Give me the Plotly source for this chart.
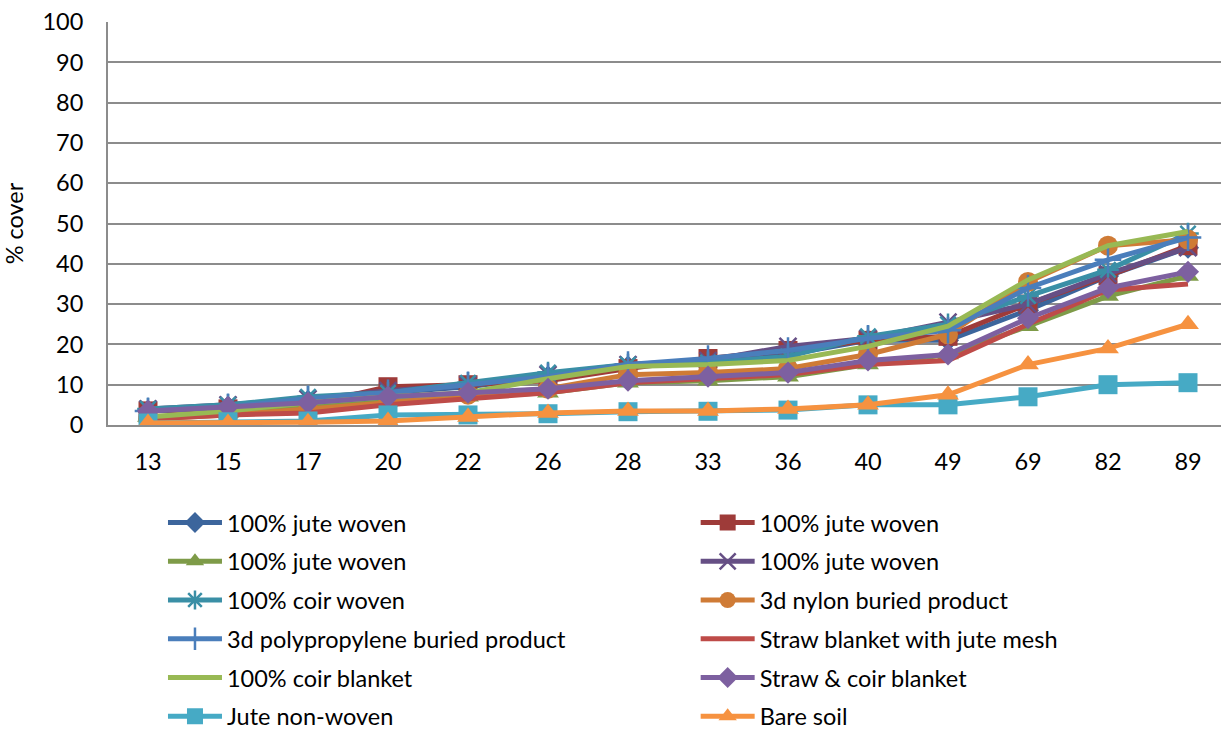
import plotly.graph_objects as go

days = ["13", "15", "17", "20", "22", "26", "28", "33", "36", "40", "49", "69", "82", "89"]

names = [
    "100% jute woven", "100% jute woven", "100% jute woven", "100% jute woven",
    "100% coir woven", "3d nylon buried product", "3d polypropylene buried product",
    "Straw blanket with jute mesh", "100% coir blanket", "Straw & coir blanket",
    "Jute non-woven", "Bare soil",
]

jute_woven_a = [3.5, 4.5, 6, 8, 9.5, 12, 14.5, 16, 17.5, 21, 21, 28.5, 37, 44]
jute_woven_b = [3.5, 4, 5, 9.5, 10, 11, 14, 16.5, 18.5, 21, 22, 30, 37, 44.5]
jute_woven_c = [2, 3, 4.5, 6.5, 7, 8, 10.5, 11, 12, 15, 17.5, 24.5, 32, 37]
jute_woven_d = [4, 5, 6.5, 8.5, 10, 12.5, 15, 16, 19.5, 21.5, 25.5, 30, 37.5, 44]
coir_woven = [4, 5, 7, 8, 10.5, 13, 15, 15.5, 17, 22, 25, 32, 38.5, 47.5]
nylon_3d = [1.5, 2.5, 4, 5.5, 7.5, 9, 12.5, 13, 14, 17.5, 22.5, 35.5, 44.5, 46]
polypropylene_3d = [3.5, 4.5, 6.5, 8, 10, 12, 15, 16.5, 18.5, 21.5, 23.5, 34, 41, 46.5]
straw_jute_mesh = [1.5, 2.5, 3, 5, 6.5, 8, 10.5, 11.5, 12.5, 15, 16, 25, 33.5, 35]
coir_blanket = [2, 3.5, 5.5, 7, 8, 11.5, 14.5, 15, 16, 19.5, 24.5, 36, 44.5, 48]
straw_coir_blanket = [3.5, 4.5, 5.5, 7, 8, 9, 11, 12, 13, 16, 17.5, 26.5, 34, 38]
jute_non_woven = [0.5, 0.8, 1, 2.5, 2.5, 2.8, 3.3, 3.4, 3.7, 5, 5, 7, 10, 10.5]
bare_soil = [0.5, 0.5, 0.7, 1, 2, 3, 3.5, 3.5, 4, 5, 7.5, 15, 19, 25]

series = [jute_woven_a, jute_woven_b, jute_woven_c, jute_woven_d, coir_woven, nylon_3d,
          polypropylene_3d, straw_jute_mesh, coir_blanket, straw_coir_blanket,
          jute_non_woven, bare_soil]

colors = ["#3C659C", "#9E3B39", "#7E9B48", "#664F85", "#3A8FA6", "#CF7B36",
          "#4A7EBB", "#BE4B48", "#98B954", "#7D60A0", "#46AAC5", "#F69240"]

# (symbol, size, open-symbol stroke width or None)
markers = [
    ("diamond", 17, None), ("square", 19, None), ("triangle-up", 19, None),
    ("x-thin-open", 17, 2.5), ("asterisk-open", 18, 2.5), ("circle", 20, None),
    ("cross-thin-open", 19, 2.5), (None, 0, None), (None, 0, None),
    ("diamond", 17, None), ("square", 19, None), ("triangle-up", 19, None),
]

fig = go.Figure()
for i, (vals, name, col, mk) in enumerate(zip(series, names, colors, markers)):
    sym, size, lw = mk
    if sym is None:
        mode = "lines"
        marker = None
    else:
        mode = "lines+markers"
        marker = dict(symbol=sym, size=size, color=col)
        if lw is not None:
            marker["line"] = dict(color=col, width=lw)
        else:
            marker["line"] = dict(width=0)
    fig.add_trace(go.Scatter(
        x=days, y=vals, name=name, mode=mode, marker=marker,
        line=dict(color=col, width=5),
        legend="legend" if i % 2 == 0 else "legend2",
        legendgroup=f"g{i}",
    ))

font_family = "Lato, 'Open Sans', sans-serif"
text_size = 23.5

legend_common = dict(
    orientation="v", traceorder="grouped", tracegroupgap=5.2,
    font=dict(family=font_family, size=text_size, color="#000000"),
    bgcolor="rgba(0,0,0,0)", itemwidth=54, yanchor="top", yref="container",
    xanchor="left", itemclick=False, itemdoubleclick=False,
)

fig.update_layout(
    width=1221, height=731,
    margin=dict(l=108, r=0, t=22, b=306),
    paper_bgcolor="white", plot_bgcolor="white",
    font=dict(family=font_family, size=text_size, color="#000000"),
    showlegend=True,
    legend=dict(x=0.0494, y=0.315, **legend_common),
    legend2=dict(x=0.528, y=0.315, **legend_common),
    xaxis=dict(
        type="category", range=[-0.5, 13.4125],
        showgrid=False, showline=True, linecolor="#8C8C8C", linewidth=2,
        ticks="", ticklabelstandoff=15,
        tickfont=dict(family=font_family, size=text_size, color="#000000"),
        fixedrange=True,
    ),
    yaxis=dict(
        range=[0, 100], dtick=10, tick0=0,
        showgrid=True, gridcolor="#8C8C8C", gridwidth=2,
        showline=True, linecolor="#8C8C8C", linewidth=2,
        ticks="", ticklabelstandoff=18, zeroline=False,
        tickfont=dict(family=font_family, size=text_size, color="#000000"),
        title=dict(text="% cover", standoff=12,
                   font=dict(family=font_family, size=text_size, color="#000000")),
        fixedrange=True,
    ),
)

fig.write_html("out.html", config={"displayModeBar": False})
